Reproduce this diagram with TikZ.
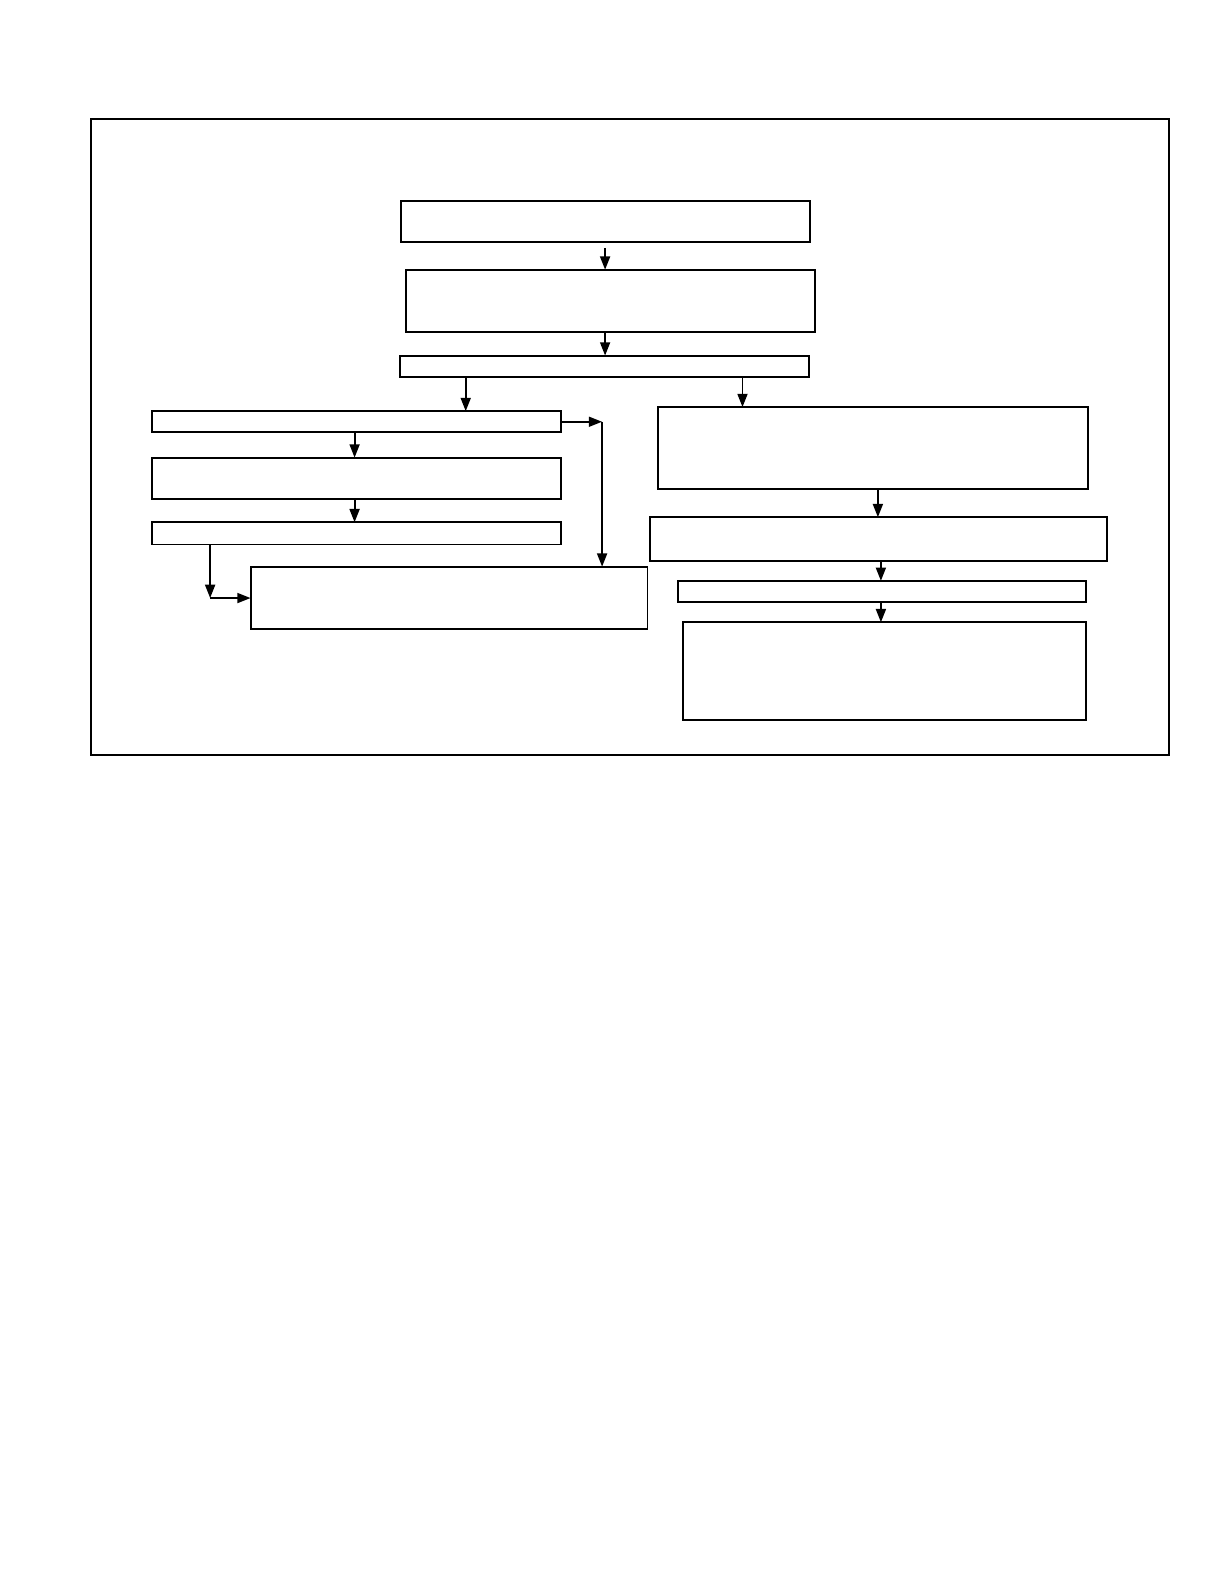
\documentclass[tikz,border=0pt]{standalone}
\usetikzlibrary{arrows.meta}
\tikzset{blk/.style={rectangle, draw, line width=1.1pt, inner sep=0pt, outer sep=0pt, minimum width=8.1cm}}
\begin{document}
\begin{tikzpicture}[x=0.02cm,y=-0.02cm,line width=1.1pt,
                    >={Triangle[length=7.5pt,width=5.6pt]}]
  \useasboundingbox (0,0) rectangle (1212,1568);
  \node[blk,minimum width=21.34cm,minimum height=12.58cm] (frame) at (623.5,432.5) {};

  \node[blk,minimum height=0.82cm]                     (b1) at (599.5,219.5) {};
  \node[blk,minimum height=1.24cm]                     (b2) at (604.5,298)   {};
  \node[blk,minimum height=0.42cm]                     (b3) at (598.5,362.5) {};
  \node[blk,minimum height=0.42cm]                     (l1) at (352.5,417.5) {};
  \node[blk,minimum height=0.82cm]                     (l2) at (352.5,473.5) {};
  \node[blk,minimum height=0.44cm]                     (l3) at (352.5,528)   {};
  \node[blk,minimum width=7.86cm,minimum height=1.24cm] (l4) at (444.5,592)   {};
  \node[blk,minimum width=8.52cm,minimum height=1.62cm] (r1) at (864,443.5)   {};
  \node[blk,minimum width=9.06cm,minimum height=0.86cm] (r2) at (869.5,533.5) {};
  \node[blk,minimum width=8.08cm,minimum height=0.42cm] (r3) at (873,585.5)   {};
  \node[blk,minimum width=7.98cm,minimum height=1.94cm] (r4) at (875.5,664.5) {};

  \coordinate (c1) at (596,417.5);
  \coordinate (c2) at (208,592);

  \draw[->,shorten <=3pt] (b1.south -| 599,0) -- (b2.north -| 599,0);
  \draw[->] (b2.south -| 599,0) -- (b3.north -| 599,0);
  \draw[->] (b3.south -| 461,0) -- (l1.north -| 461,0);
  \draw[->] (b3.south -| 735,0) -- (r1.north -| 735,0);
  \draw[->] (l1.south -| 351,0) -- (l2.north -| 351,0);
  \draw[->] (l2.south -| 351,0) -- (l3.north -| 351,0);
  \draw[->] (l1.east) -- (c1);
  \draw[->] (c1) -- (l4.north -| c1);
  \draw[->] (l3.south -| c2) -- (c2);
  \draw[->] (c2) -- (l4.west |- c2);
  \draw[->] (r1.south -| 869,0) -- (r2.north -| 869,0);
  \draw[->] (r2.south -| 872,0) -- (r3.north -| 872,0);
  \draw[->] (r3.south -| 872,0) -- (r4.north -| 872,0);
\end{tikzpicture}
\end{document}
